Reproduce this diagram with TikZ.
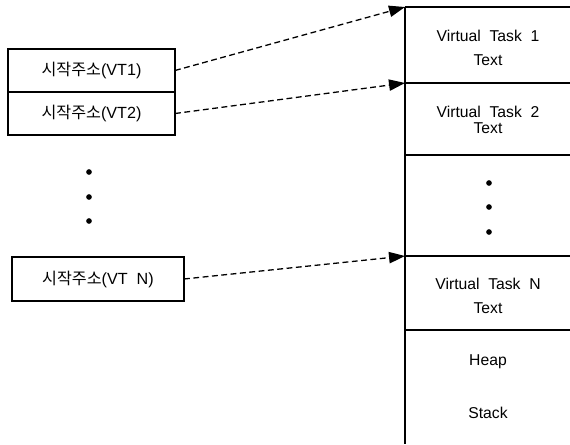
\documentclass[tikz,border=0pt]{standalone}
\usepackage{fontspec}
\setmainfont{Liberation Sans}
\newfontfamily\kr{Noto Sans CJK KR}
\usetikzlibrary{arrows.meta,positioning,calc}

\tikzset{
    addrbox/.style={rectangle, draw, line width=1.2pt, inner sep=0pt, outer sep=0pt, font=\fontsize{13.8}{15}\selectfont},
    ptr/.style={-{Triangle[length=4.8mm,width=3.4mm]}, line width=1.1pt, dash pattern=on 5pt off 3pt},
    memtext/.style={align=center, font=\fontsize{13.4}{17}\selectfont},
    dot/.style={circle, fill, inner sep=0pt, minimum size=1.7mm}
}

\begin{document}
\begin{tikzpicture}[x=0.03cm, y=-0.03cm]
    \useasboundingbox (0,0) rectangle (570,444);

    % Memory column
    \draw[line width=1.3pt] (405,7) -- (405,444);
    \foreach \y/\n in {7/top, 83/b1, 155/b2, 256/bn, 330/end} {
        \draw[line width=1.2pt] (405,\y) -- (570,\y);
        \coordinate (\n) at (405,\y);
    }
    \node[memtext, font=\fontsize{13.4}{21}\selectfont] (vt1) at (488,48) {Virtual~ Task~ 1\\Text};
    \node[memtext, font=\fontsize{13.4}{14}\selectfont] (vt2) at (488,120) {Virtual~ Task~ 2\\Text};
    \node[memtext, font=\fontsize{13.4}{20}\selectfont] (vtn) at (488,296) {Virtual~ Task~ N\\Text};
    \node[memtext] (heap) at (488,362) {Heap};
    \node[memtext] (stack) at (488,413) {Stack};
    \foreach \y [count=\i] in {183,207,232} {
        \node[dot] (rdot\i) at (489,\y) {};
    }

    % Start address table
    \node[addrbox, minimum width=167*0.03cm, minimum height=43*0.03cm] (sa1) at (91.5,70.5) {{\kr 시작주소}(VT1)};
    \node[addrbox, minimum width=167*0.03cm, minimum height=43*0.03cm, below=0pt of sa1] (sa2) {{\kr 시작주소}(VT2)};
    \node[addrbox, minimum width=172*0.03cm, minimum height=44*0.03cm] (san) at (98,279) {{\kr 시작주소}(VT~ N)};
    \foreach \y [count=\i] in {172,197,221} {
        \node[dot] (ldot\i) at (89,\y) {};
    }

    % Pointers into memory
    \draw[ptr] (sa1.east) -- (top);
    \draw[ptr] (sa2.east) -- (b1);
    \draw[ptr] (san.east) -- (bn);
\end{tikzpicture}
\end{document}
